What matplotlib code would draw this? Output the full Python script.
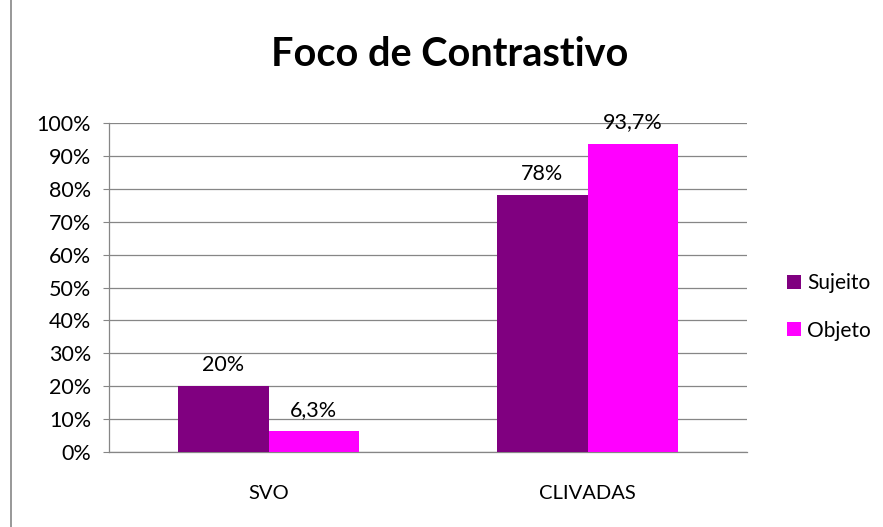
import numpy as np
import matplotlib
matplotlib.use("Agg")
import matplotlib.pyplot as plt
from matplotlib.lines import Line2D

categories = ["SVO", "CLIVADAS"]
sujeito = [0.20, 0.78]
objeto = [0.063, 0.937]
sujeito_labels = ["20%", "78%"]
objeto_labels = ["6,3%", "93,7%"]
yticks = np.arange(0, 1.01, 0.1)

plt.rcParams["font.family"] = ["Lato", "DejaVu Sans"]

fig = plt.figure(figsize=(8.83, 5.27), dpi=100, facecolor="white")
ax = fig.add_axes([109 / 883, 1 - 452 / 527, (747 - 109) / 883, (452 - 123) / 527])

x = np.arange(len(categories))
w = 0.283
b1 = ax.bar(x - w / 2, sujeito, w, color="#800080", label="Sujeito", zorder=3)
b2 = ax.bar(x + w / 2, objeto, w, color="#FF00FF", label="Objeto", zorder=3)

for bars, labs in ((b1, sujeito_labels), (b2, objeto_labels)):
    for r, lab in zip(bars, labs):
        ax.text(r.get_x() + r.get_width() / 2, r.get_height() + 0.035, lab,
                ha="center", va="bottom", fontsize=15.5, color="#000000")

ax.set_xlim(-0.5, 1.5)
ax.set_ylim(0, 1)
ax.set_yticks(yticks)
ax.set_yticklabels([f"{int(round(t * 100))}%" for t in yticks], fontsize=15.5)
ax.set_xticks(x)
ax.set_xticklabels(categories, fontsize=14.5)
ax.tick_params(axis="x", length=0, pad=24)
ax.tick_params(axis="y", length=4, color="#868686", pad=9)
ax.yaxis.grid(True, color="#868686", linewidth=0.9, zorder=0)
for s in ("top", "right"):
    ax.spines[s].set_visible(False)
for s in ("left", "bottom"):
    ax.spines[s].set_color("#868686")
    ax.spines[s].set_linewidth(0.9)

fig.text(450 / 883, 1 - 55 / 527, "Foco de Contrastivo", ha="center", va="center",
         fontsize=28.5, fontweight="bold")

fig.legend(handles=[b1, b2], loc="center left", bbox_to_anchor=(787 / 883, 1 - 307 / 527),
           frameon=False, fontsize=15, handlelength=0.65, handleheight=0.65,
           handletextpad=0.3, labelspacing=1.3, borderpad=0, borderaxespad=0)

# outer chart border (left edge visible)
fig.add_artist(Line2D([11 / 883, 11 / 883], [0, 1], color="#868686", linewidth=1.2,
                      transform=fig.transFigure))

fig.savefig("out.png", dpi=100, facecolor="white")
